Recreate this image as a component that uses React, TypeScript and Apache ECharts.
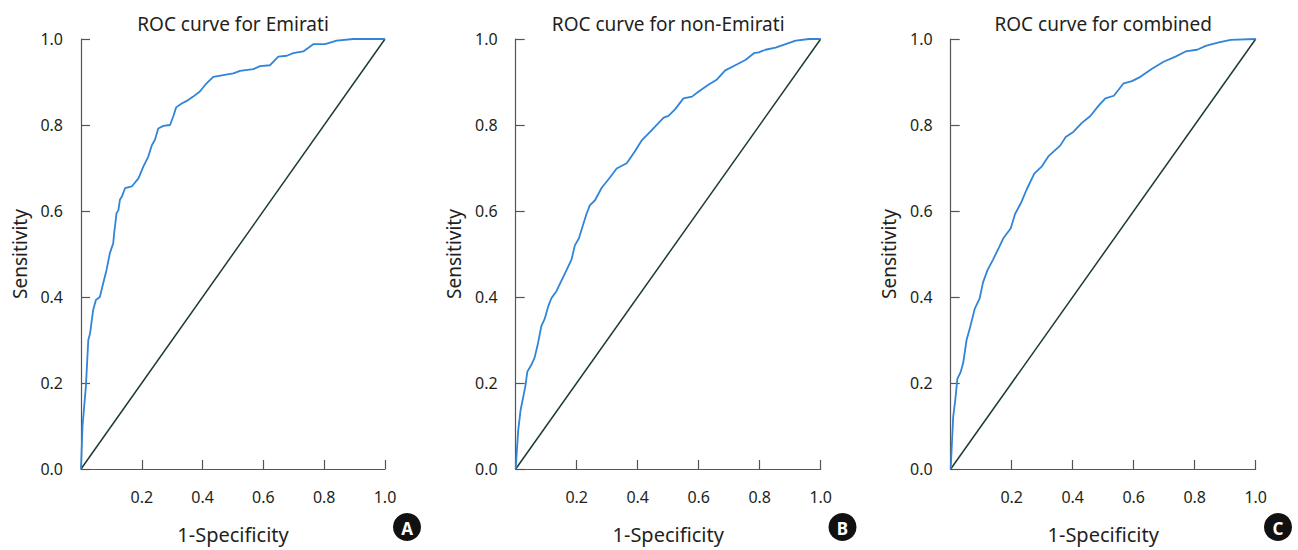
import React, { useEffect, useRef } from "react";
import * as echarts from "echarts";

const panelTitles = ["ROC curve for Emirati", "ROC curve for non-Emirati", "ROC curve for combined"];
const panelBadges = ["A", "B", "C"];

const emiratiX = [0, 0.005, 0.016, 0.024, 0.03, 0.04, 0.049, 0.062, 0.073, 0.084, 0.095, 0.106, 0.109, 0.117, 0.123, 0.128, 0.134, 0.145, 0.167, 0.189, 0.205, 0.221, 0.233, 0.243, 0.254, 0.271, 0.293, 0.304, 0.313, 0.331, 0.348, 0.369, 0.391, 0.413, 0.435, 0.468, 0.501, 0.523, 0.567, 0.589, 0.622, 0.649, 0.677, 0.698, 0.731, 0.764, 0.803, 0.841, 0.896, 1];
const emiratiY = [0, 0.1, 0.191, 0.3, 0.316, 0.37, 0.393, 0.4, 0.432, 0.463, 0.502, 0.525, 0.548, 0.595, 0.602, 0.626, 0.633, 0.653, 0.657, 0.676, 0.703, 0.726, 0.753, 0.765, 0.792, 0.798, 0.8, 0.821, 0.841, 0.85, 0.856, 0.866, 0.878, 0.897, 0.912, 0.916, 0.92, 0.926, 0.93, 0.937, 0.939, 0.959, 0.961, 0.967, 0.971, 0.988, 0.988, 0.996, 1.0, 1.0];

const nonEmiratiX = [0, 0.008, 0.016, 0.024, 0.032, 0.038, 0.052, 0.062, 0.073, 0.084, 0.095, 0.106, 0.117, 0.134, 0.15, 0.167, 0.183, 0.194, 0.207, 0.221, 0.232, 0.243, 0.26, 0.282, 0.309, 0.331, 0.364, 0.391, 0.413, 0.435, 0.457, 0.485, 0.501, 0.523, 0.55, 0.578, 0.6, 0.633, 0.66, 0.687, 0.72, 0.753, 0.781, 0.797, 0.819, 0.852, 0.885, 0.918, 0.962, 1];
const nonEmiratiY = [0, 0.088, 0.137, 0.165, 0.194, 0.226, 0.243, 0.259, 0.292, 0.332, 0.349, 0.377, 0.397, 0.414, 0.438, 0.463, 0.487, 0.52, 0.536, 0.568, 0.593, 0.613, 0.625, 0.654, 0.678, 0.699, 0.711, 0.739, 0.764, 0.78, 0.796, 0.817, 0.821, 0.837, 0.862, 0.866, 0.878, 0.894, 0.906, 0.927, 0.939, 0.951, 0.967, 0.969, 0.975, 0.98, 0.988, 0.996, 1.0, 1.0];

const combinedX = [0, 0.008, 0.015, 0.022, 0.033, 0.041, 0.052, 0.063, 0.079, 0.095, 0.106, 0.121, 0.139, 0.158, 0.172, 0.197, 0.211, 0.232, 0.249, 0.274, 0.298, 0.32, 0.337, 0.359, 0.377, 0.402, 0.43, 0.458, 0.485, 0.507, 0.535, 0.567, 0.594, 0.622, 0.66, 0.698, 0.737, 0.77, 0.808, 0.836, 0.879, 0.918, 1];
const combinedY = [0, 0.12, 0.161, 0.21, 0.226, 0.247, 0.3, 0.328, 0.373, 0.397, 0.434, 0.463, 0.487, 0.515, 0.536, 0.56, 0.593, 0.621, 0.65, 0.687, 0.703, 0.727, 0.738, 0.752, 0.772, 0.784, 0.805, 0.821, 0.845, 0.862, 0.868, 0.897, 0.902, 0.912, 0.931, 0.947, 0.959, 0.971, 0.975, 0.984, 0.992, 0.998, 1.0];

const diagonalX = [0, 1];
const diagonalY = [0, 1];

const curvesX = [emiratiX, nonEmiratiX, combinedX];
const curvesY = [emiratiY, nonEmiratiY, combinedY];

const FONT = "'Noto Sans', sans-serif";
const TEXT = "#231f20";
const AXIS = "#555555";

export default function App() {
  const ref = useRef<HTMLDivElement>(null);
  useEffect(() => {
    document.body.style.margin = "0";
    if (!ref.current) return;
    const chart = echarts.init(ref.current, null, { renderer: "svg" });
    const lefts = [81, 515.7, 950.7];
    const widths = [304, 305, 305];
    const grids = lefts.map((l, i) => ({ left: l, top: 39, width: widths[i], height: 430 }));
    const xAxes = grids.map((_, i) => ({
      type: "value",
      gridIndex: i,
      min: 0,
      max: 1,
      interval: 0.2,
      splitLine: { show: false },
      axisLine: { show: true, lineStyle: { color: AXIS, width: 1.2 } },
      axisTick: { show: true, inside: true, length: 9, lineStyle: { color: AXIS, width: 1.2 } },
      axisLabel: {
        showMinLabel: false,
        margin: 20,
        fontSize: 16,
        fontFamily: FONT,
        color: TEXT,
        formatter: (v: number) => v.toFixed(1),
      },
      name: "1-Specificity",
      nameLocation: "middle",
      nameGap: 55,
      nameTextStyle: { fontSize: 20, fontFamily: FONT, color: TEXT },
    }));
    const yAxes = grids.map((_, i) => ({
      type: "value",
      gridIndex: i,
      min: 0,
      max: 1,
      interval: 0.2,
      splitLine: { show: false },
      axisLine: { show: true, lineStyle: { color: AXIS, width: 1.2 } },
      axisTick: { show: true, inside: true, length: 9, lineStyle: { color: AXIS, width: 1.2 } },
      axisLabel: {
        margin: 18,
        fontSize: 16,
        fontFamily: FONT,
        color: TEXT,
        formatter: (v: number) => v.toFixed(1),
      },
      name: "Sensitivity",
      nameLocation: "middle",
      nameGap: 52,
      nameTextStyle: { fontSize: 19, fontFamily: FONT, color: TEXT },
    }));
    const series: any[] = [];
    for (let i = 0; i < 3; i++) {
      series.push({
        type: "line",
        xAxisIndex: i,
        yAxisIndex: i,
        data: diagonalX.map((x, k) => [x, diagonalY[k]]),
        showSymbol: false,
        lineStyle: { color: "#1d3a33", width: 1.5 },
        silent: true,
      });
      series.push({
        type: "line",
        xAxisIndex: i,
        yAxisIndex: i,
        data: curvesX[i].map((x, k) => [x, curvesY[i][k]]),
        showSymbol: false,
        lineStyle: { color: "#3085d8", width: 1.8 },
        silent: true,
      });
    }
    const graphic: any[] = [];
    for (let i = 0; i < 3; i++) {
      const cx = lefts[i] + widths[i] / 2;
      graphic.push({
        type: "text",
        x: cx,
        y: 24,
        style: {
          text: panelTitles[i],
          fontSize: 19,
          fontFamily: FONT,
          fill: TEXT,
          textAlign: "center",
          textVerticalAlign: "middle",
        },
      });
      const bx = 407 + 435.5 * i;
      graphic.push({ type: "circle", shape: { cx: bx, cy: 527, r: 14 }, style: { fill: "#111111" } });
      graphic.push({
        type: "text",
        x: bx,
        y: 528,
        style: {
          text: panelBadges[i],
          fontSize: 17,
          fontWeight: "bold",
          fontFamily: FONT,
          fill: "#ffffff",
          textAlign: "center",
          textVerticalAlign: "middle",
        },
      });
    }
    chart.setOption({
      animation: false,
      backgroundColor: "#ffffff",
      grid: grids,
      xAxis: xAxes,
      yAxis: yAxes,
      series,
      graphic,
    });
    return () => chart.dispose();
  }, []);
  return <div ref={ref} style={{ width: 1298, height: 550 }} />;
}
